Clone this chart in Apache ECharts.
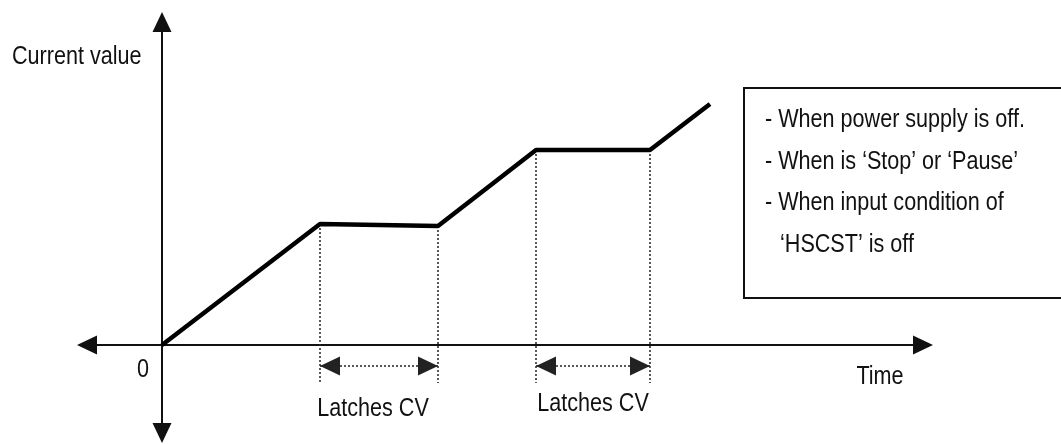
<!DOCTYPE html>
<html>
<head>
<meta charset="utf-8">
<script src="https://cdn.jsdelivr.net/npm/echarts@6/dist/echarts.min.js"></script>
<style>
html, body { margin: 0; padding: 0; background: #fff; }
#chart { width: 1061px; height: 444px; }
</style>
</head>
<body>
<div id="chart"></div>
<script>
// current value against time, latched while counting stops
var times = [0, 158, 276, 374, 488, 548];
var values = [0, 121, 119, 195, 195, 241];
var latchFrom = [158, 374];
var latchTo = [276, 488];
var latchLabelX = [211, 431];
var latchLabelY = [-64, -59];
var notes = ['- When power supply is off.', '- When is \u2018Stop\u2019 or \u2018Pause\u2019', '- When input condition of', '\u2018HSCST\u2019 is off'];

var FONT = "26px 'Liberation Sans', Arial, sans-serif";
var NARROW = 0.83;   // the original uses a condensed face
var INK = '#111';

var linePoints = times.map(function (t, i) { return [t, values[i]]; });

// dotted drops from each corner of the flat parts
var drops = [];
for (var i = 1; i <= 4; i++) {
  drops.push([{ coord: [times[i], values[i]] }, { coord: [times[i], -38] }]);
}
var spans = latchFrom.map(function (t, i) {
  return [{ coord: [t, -21] }, { coord: [latchTo[i], -21] }];
});

function label(txt, x, y, align) {
  return { type: 'text', x: x, y: y, scaleX: NARROW,
    style: { text: txt, font: FONT, fill: INK, align: align || 'left', verticalAlign: 'middle' } };
}

var chart = echarts.init(document.getElementById('chart'));
chart.setOption({
  backgroundColor: '#fff',
  animation: false,
  grid: { left: 87, right: 138, top: 22, bottom: 11 },
  xAxis: {
    type: 'value', min: -75, max: 761,
    axisLine: { onZero: true, symbol: ['triangle', 'triangle'], symbolSize: [19, 20],
      lineStyle: { color: INK, width: 2 } },
    axisTick: { show: false }, axisLabel: { show: false }, splitLine: { show: false }
  },
  yAxis: {
    type: 'value', min: -88, max: 323,
    axisLine: { onZero: true, symbol: ['triangle', 'triangle'], symbolSize: [19, 20],
      lineStyle: { color: INK, width: 2 } },
    axisTick: { show: false }, axisLabel: { show: false }, splitLine: { show: false }
  },
  series: [{
    type: 'line',
    data: linePoints,
    symbol: 'none',
    z: 5,
    lineStyle: { color: '#000', width: 4.5 },
    markLine: {
      silent: true, symbol: 'none', label: { show: false },
      lineStyle: { color: '#222', width: 1.5, type: [2, 2] },
      data: drops
    }
  }, {
    type: 'line',
    data: [],
    markLine: {
      silent: true,
      symbol: ['triangle', 'triangle'],
      symbolSize: [19, 20],
      symbolOffset: [[0, 10], [0, 10]],
      label: { show: false },
      lineStyle: { color: '#222', width: 1.5, type: [2, 2] },
      itemStyle: { color: '#000' },
      data: spans
    }
  }]
});

var texts = [
  label('Current value', 12, 57),
  label('0', 143, 370, 'center'),
  label('Time', 880, 377, 'center'),
  { type: 'rect', shape: { x: 744, y: 88, width: 330, height: 210 }, style: { fill: 'none', stroke: INK, lineWidth: 2 } },
  label(notes[0], 765, 120),
  label(notes[1], 765, 162),
  label(notes[2], 765, 203),
  label(notes[3], 780, 245)
];
latchLabelX.forEach(function (x, i) {
  var p = chart.convertToPixel({ gridIndex: 0 }, [x, latchLabelY[i]]);
  texts.push(label('Latches CV', p[0], p[1], 'center'));
});
chart.setOption({ graphic: texts });
</script>
</body>
</html>
